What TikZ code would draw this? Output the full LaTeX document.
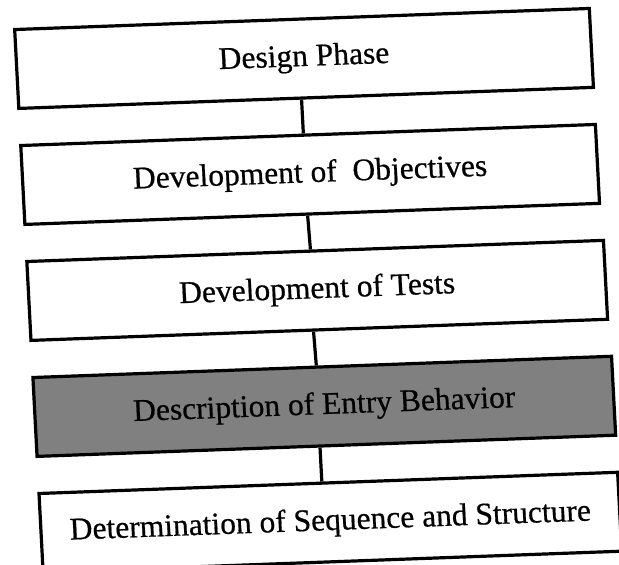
\documentclass[tikz,border=0pt]{standalone}
\usepackage{fontspec}
\setmainfont{Liberation Serif}
\newfontfamily\scanfont{Liberation Serif}[FakeBold=0.6]
\usetikzlibrary{calc}
\tikzset{
  stagebox/.style={draw=black, line width=3.2pt, fill=white, rectangle, anchor=north west,
    minimum height=79pt, inner sep=0pt, font=\scanfont\fontsize{31.5}{36}\selectfont},
  shadedbox/.style={stagebox, fill=black!50},
  link/.style={draw=black, line width=3.2pt}
}
\begin{document}
\begin{tikzpicture}[x=1pt,y=1pt]
\useasboundingbox (0,0) rectangle (619,-565);
\clip (0,0) rectangle (619,-565);
\fill[white] (0,0) rectangle (619,-565);
\begin{scope}[shift={(13,-28)}, cm={0.99933,0.03664,-0.05234,0.99863,(0,0)}, transform shape]
  \node[stagebox, minimum width=575pt] (b1) at (0,0) {Design Phase};
  \node[stagebox, minimum width=575pt] (b2) at (0,-116.15) {Development of\ \ Objectives};
  \node[stagebox, minimum width=577pt] (b3) at (0,-232.3) {Development of Tests};
  \node[shadedbox, minimum width=579pt] (b4) at (0,-348.45) {Description of Entry Behavior};
  \node[stagebox, minimum width=579pt] (b5) at (0,-464.6) {Determination of Sequence and Structure};
  \draw[link] ($(b1.south west)!0.492!(b1.south east)$) -- ($(b2.north west)!0.492!(b2.north east)$);
  \draw[link] ($(b2.south west)!0.492!(b2.south east)$) -- ($(b3.north west)!0.492!(b3.north east)$);
  \draw[link] ($(b3.south west)!0.490!(b3.south east)$) -- ($(b4.north west)!0.490!(b4.north east)$);
  \draw[link] ($(b4.south west)!0.489!(b4.south east)$) -- ($(b5.north west)!0.489!(b5.north east)$);
\end{scope}
\end{tikzpicture}
\end{document}
